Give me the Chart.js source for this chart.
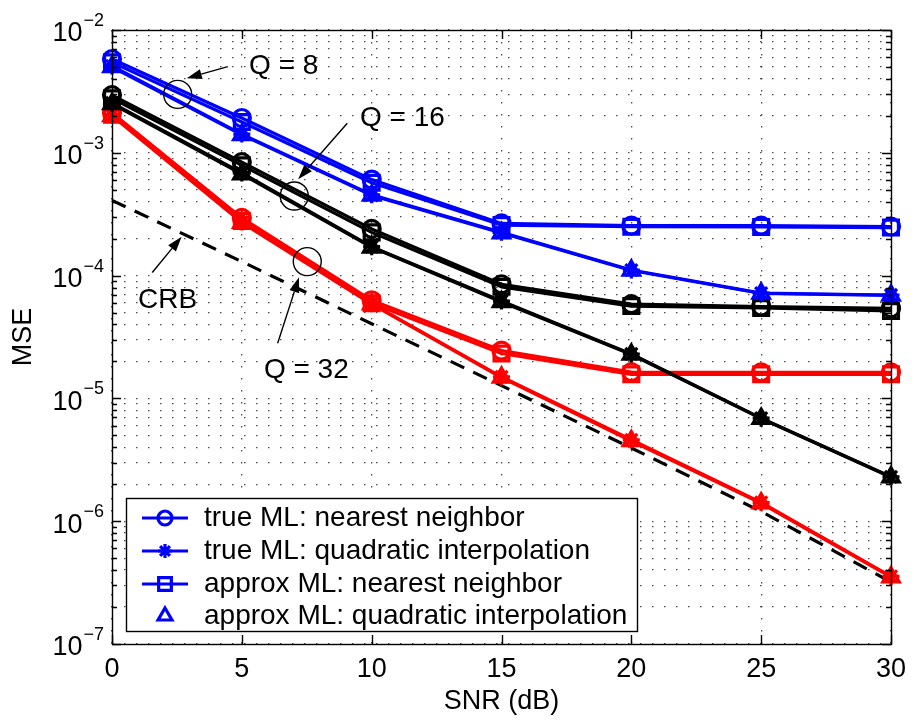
<!DOCTYPE html>
<html>
<head>
<meta charset="utf-8">
<title>MSE vs SNR</title>
<script src="https://cdn.jsdelivr.net/npm/chart.js@4.4.1/dist/chart.umd.min.js"></script>
<style>
  html, body { margin: 0; padding: 0; background: #fff; }
  #wrap { width: 914px; height: 722px; }
</style>
</head>
<body>
<div id="wrap"><canvas id="mse-chart" width="914" height="722"></canvas></div>
<script>
// SNR points (dB) and axis ticks
const snr = [0, 5, 10, 15, 20, 25, 30];
const xTicks = [0, 5, 10, 15, 20, 25, 30];
const yDecades = [-7, -6, -5, -4, -3, -2];

const seriesLabels = [
  "true ML: nearest neighbor",
  "true ML: quadratic interpolation",
  "approx ML: nearest neighbor",
  "approx ML: quadratic interpolation"
];

// Q = 8 (blue)
const q8TrueNN     = [5.8e-3, 1.92e-3, 6.05e-4, 2.66e-4, 2.55e-4, 2.55e-4, 2.51e-4];
const q8TrueQuad   = [5.1e-3, 1.42e-3, 4.55e-4, 2.25e-4, 1.11e-4, 7.2e-5, 6.95e-5];
const q8ApproxNN   = [5.45e-3, 1.78e-3, 5.7e-4, 2.58e-4, 2.5e-4, 2.49e-4, 2.46e-4];
const q8ApproxQuad = [5.0e-3, 1.40e-3, 4.5e-4, 2.22e-4, 1.10e-4, 7.15e-5, 6.9e-5];

// Q = 16 (black)
const q16TrueNN     = [2.95e-3, 8.4e-4, 2.4e-4, 8.5e-5, 5.85e-5, 5.6e-5, 5.4e-5];
const q16TrueQuad   = [2.55e-3, 6.85e-4, 1.72e-4, 6.2e-5, 2.3e-5, 6.9e-6, 2.3e-6];
const q16ApproxNN   = [2.78e-3, 7.9e-4, 2.25e-4, 8.1e-5, 5.65e-5, 5.45e-5, 5.15e-5];
const q16ApproxQuad = [2.5e-3, 6.7e-4, 1.7e-4, 6.1e-5, 2.28e-5, 6.85e-6, 2.28e-6];

// Q = 32 (red)
const q32TrueNN     = [2.12e-3, 2.95e-4, 6.3e-5, 2.45e-5, 1.64e-5, 1.63e-5, 1.63e-5];
const q32TrueQuad   = [2.03e-3, 2.73e-4, 5.9e-5, 1.5e-5, 4.6e-6, 1.42e-6, 3.55e-7];
const q32ApproxNN   = [2.04e-3, 2.78e-4, 5.95e-5, 2.32e-5, 1.57e-5, 1.57e-5, 1.57e-5];
const q32ApproxQuad = [2.0e-3, 2.7e-4, 5.85e-5, 1.48e-5, 4.5e-6, 1.4e-6, 3.5e-7];

// Cramer-Rao bound
const crb = [4.1e-4, 1.3e-4, 4.05e-5, 1.27e-5, 3.95e-6, 1.2e-6, 3.2e-7];

const FONT = '"Liberation Sans", Arial, Helvetica, sans-serif';
const LW = 3.2;

// marker style per series kind
const markers = [
  { style: 'circle', radius: 8.5 },
  { style: 'star', radius: 8.5 },
  { style: 'rect', radius: 10.5 },
  { style: 'triangle', radius: 9.5 }
];

function lineSet(label, values, color, kind) {
  const m = markers[kind];
  return {
    label: label,
    data: snr.map((s, i) => ({ x: s, y: values[i] })),
    borderColor: color,
    backgroundColor: color,
    borderWidth: LW,
    pointStyle: m.style,
    pointRadius: m.radius,
    pointHoverRadius: m.radius,
    pointBorderWidth: LW,
    pointBorderColor: color,
    pointBackgroundColor: 'rgba(0,0,0,0)',
    tension: 0,
    fill: false,
    clip: false
  };
}

const datasets = [];
const groups = [
  { color: '#0000ff', sets: [q8TrueNN, q8TrueQuad, q8ApproxNN, q8ApproxQuad] },
  { color: '#000000', sets: [q16TrueNN, q16TrueQuad, q16ApproxNN, q16ApproxQuad] },
  { color: '#ff0000', sets: [q32TrueNN, q32TrueQuad, q32ApproxNN, q32ApproxQuad] }
];
groups.forEach(g => {
  g.sets.forEach((vals, k) => datasets.push(lineSet(seriesLabels[k], vals, g.color, k)));
});
datasets.push({
  label: 'CRB',
  data: snr.map((s, i) => ({ x: s, y: crb[i] })),
  borderColor: '#000',
  borderWidth: LW,
  borderDash: [15, 10],
  pointRadius: 0,
  tension: 0,
  fill: false,
  clip: false
});

// annotation callouts (data coordinates)
const callouts = [
  { text: 'Q = 8',  tx: 5.28, ty: 5.03e-3, circle: [2.53, 2.99e-3], from: [4.46, 5.03e-3], to: [2.88, 4.05e-3] },
  { text: 'Q = 16', tx: 9.55, ty: 1.92e-3, circle: [7.02, 4.45e-4], from: [9.06, 1.74e-3], to: [7.17, 6.08e-4] },
  { text: 'Q = 32', tx: 5.85, ty: 1.70e-5, circle: [7.52, 1.30e-4], from: [6.38, 2.81e-5], to: [7.20, 9.68e-5] },
  { text: 'CRB',    tx: 1.00, ty: 6.32e-5, circle: null,           from: [1.55, 1.06e-4], to: [2.68, 2.07e-4] }
];

function arrow(ctx, x1, y1, x2, y2) {
  const ang = Math.atan2(y2 - y1, x2 - x1);
  const len = 15, half = 5;
  const bx = x2 - len * Math.cos(ang), by = y2 - len * Math.sin(ang);
  ctx.beginPath();
  ctx.moveTo(x1, y1);
  ctx.lineTo(bx, by);
  ctx.stroke();
  ctx.beginPath();
  ctx.moveTo(x2, y2);
  ctx.lineTo(bx + half * Math.sin(ang), by - half * Math.cos(ang));
  ctx.lineTo(bx - half * Math.sin(ang), by + half * Math.cos(ang));
  ctx.closePath();
  ctx.fill();
}

const calloutPlugin = {
  id: 'callouts',
  afterDatasetsDraw(chart) {
    const ctx = chart.ctx, xs = chart.scales.x, ys = chart.scales.y;
    ctx.save();
    ctx.strokeStyle = '#000';
    ctx.fillStyle = '#000';
    ctx.lineWidth = 1.4;
    callouts.forEach(c => {
      if (c.circle) {
        ctx.beginPath();
        ctx.arc(xs.getPixelForValue(c.circle[0]), ys.getPixelForValue(c.circle[1]), 14, 0, Math.PI * 2);
        ctx.stroke();
      }
      arrow(ctx, xs.getPixelForValue(c.from[0]), ys.getPixelForValue(c.from[1]),
                 xs.getPixelForValue(c.to[0]), ys.getPixelForValue(c.to[1]));
      ctx.font = '28px ' + FONT;
      ctx.textAlign = 'left';
      ctx.textBaseline = 'middle';
      ctx.fillText(c.text, xs.getPixelForValue(c.tx), ys.getPixelForValue(c.ty));
    });
    ctx.restore();
  }
};

// frame, inward ticks, tick labels, titles and legend
const axesPlugin = {
  id: 'matlabAxes',
  afterDraw(chart) {
    const ctx = chart.ctx, xs = chart.scales.x, ys = chart.scales.y;
    const a = chart.chartArea;
    ctx.save();
    ctx.strokeStyle = '#000';
    ctx.fillStyle = '#000';
    ctx.lineWidth = 1.4;

    // y ticks (inside, both sides)
    ys.ticks.forEach(t => {
      const y = Math.round(ys.getPixelForValue(t.value)) + 0.5;
      const len = t.major ? 9 : 5;
      ctx.beginPath();
      ctx.moveTo(a.left, y); ctx.lineTo(a.left + len, y);
      ctx.moveTo(a.right, y); ctx.lineTo(a.right - len, y);
      ctx.stroke();
    });
    // x ticks
    xTicks.forEach(v => {
      const x = Math.round(xs.getPixelForValue(v)) + 0.5;
      ctx.beginPath();
      ctx.moveTo(x, a.bottom); ctx.lineTo(x, a.bottom - 9);
      ctx.moveTo(x, a.top); ctx.lineTo(x, a.top + 9);
      ctx.stroke();
    });
    ctx.strokeRect(a.left + 0.5, a.top + 0.5, a.right - a.left, a.bottom - a.top);

    // x tick labels
    ctx.font = '27px ' + FONT;
    ctx.textAlign = 'center';
    ctx.textBaseline = 'middle';
    xTicks.forEach(v => ctx.fillText(String(v), xs.getPixelForValue(v), 670));
    ctx.fillText('SNR (dB)', (a.left + a.right) / 2, 702);

    // y tick labels 10^k
    yDecades.forEach(k => {
      const y = ys.getPixelForValue(Math.pow(10, k));
      const exp = '\u2212' + Math.abs(k);
      ctx.font = '18px ' + FONT;
      ctx.textAlign = 'right';
      ctx.fillText(exp, 104, y - 9);
      const ew = ctx.measureText(exp).width;
      ctx.font = '27px ' + FONT;
      ctx.fillText('10', 104 - ew - 1, y + 4);
    });

    // y title
    ctx.save();
    ctx.translate(24, (a.top + a.bottom) / 2);
    ctx.rotate(-Math.PI / 2);
    ctx.textAlign = 'center';
    ctx.font = '27px ' + FONT;
    ctx.fillText('MSE', 0, 0);
    ctx.restore();

    // legend box
    const box = { left: 126, top: 498, right: 637, bottom: 631 };
    ctx.fillStyle = '#fff';
    ctx.fillRect(box.left, box.top, box.right - box.left, box.bottom - box.top);
    ctx.strokeStyle = '#000';
    ctx.lineWidth = 1.4;
    ctx.strokeRect(box.left + 0.5, box.top + 0.5, box.right - box.left, box.bottom - box.top);
    const rows = [518, 551, 584, 616];
    seriesLabels.forEach((label, k) => {
      const y = rows[k];
      ctx.strokeStyle = '#0000ff';
      ctx.lineWidth = LW;
      if (k < 3) {
        ctx.beginPath();
        ctx.moveTo(142, y); ctx.lineTo(188, y);
        ctx.stroke();
      }
      ctx.fillStyle = 'rgba(0,0,0,0)';
      Chart.helpers.drawPoint(ctx, {
        pointStyle: markers[k].style,
        radius: markers[k].radius - 1.5,
        borderWidth: LW,
        rotation: 0
      }, 165, y);
      ctx.fillStyle = '#000';
      ctx.font = '28px ' + FONT;
      ctx.textAlign = 'left';
      ctx.textBaseline = 'middle';
      ctx.fillText(label, 204, y);
    });
    ctx.restore();
  }
};

const dotted = {
  display: true,
  color: 'rgba(0,0,0,0.7)',
  lineWidth: 1.3,
  drawTicks: false
};

new Chart(document.getElementById('mse-chart').getContext('2d'), {
  type: 'line',
  data: { datasets: datasets },
  options: {
    responsive: false,
    animation: false,
    devicePixelRatio: 1,
    layout: { padding: { left: 112, right: 23, top: 30, bottom: 78 } },
    plugins: { legend: { display: false }, tooltip: { enabled: false } },
    elements: { line: { borderCapStyle: 'butt', borderJoinStyle: 'round' } },
    scales: {
      x: {
        type: 'linear',
        min: 0,
        max: 30,
        ticks: { display: false, stepSize: 5 },
        grid: dotted,
        border: { display: false, dash: [1.5, 10.5] },
        afterFit: s => { s.height = 0; }
      },
      y: {
        type: 'logarithmic',
        min: 1e-7,
        max: 1e-2,
        ticks: { display: false },
        grid: dotted,
        border: { display: false, dash: [1.5, 10.5] },
        afterBuildTicks: scale => {
          const ticks = [];
          yDecades.forEach(k => {
            for (let m = 1; m <= 9; m++) {
              const v = m * Math.pow(10, k);
              if (v <= 1.0001e-2) ticks.push({ value: v, major: m === 1 });
            }
          });
          scale.ticks = ticks;
        },
        afterFit: s => { s.width = 0; }
      }
    }
  },
  plugins: [calloutPlugin, axesPlugin]
});
</script>
</body>
</html>
